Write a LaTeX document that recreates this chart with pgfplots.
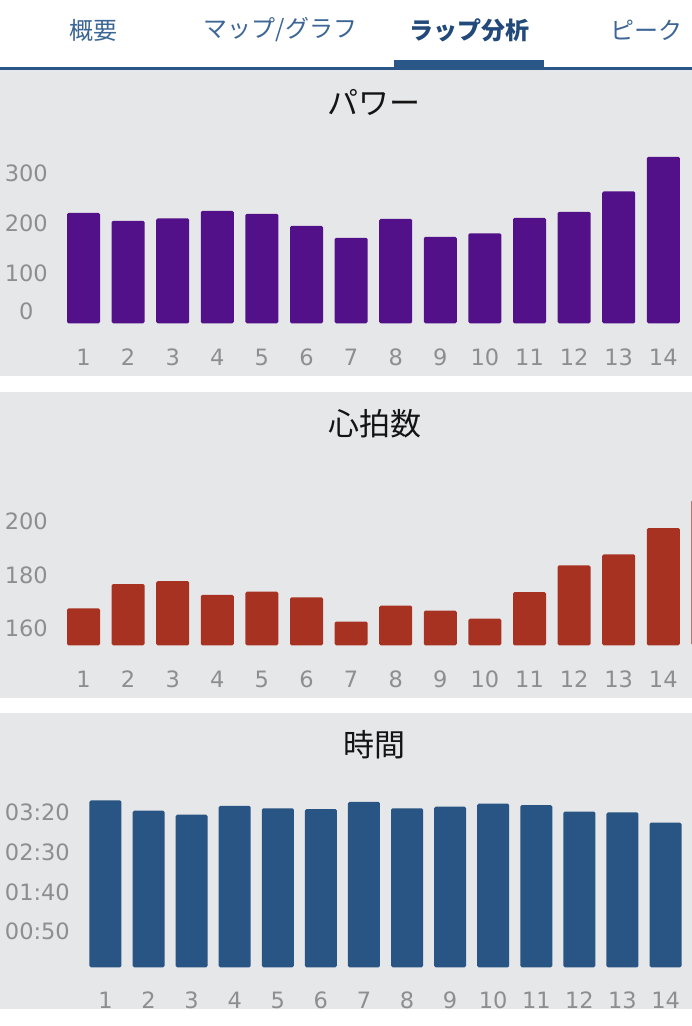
\documentclass[border=0pt]{standalone}
\usepackage{pgfplots}
\pgfplotsset{compat=1.18}
\usepackage{fontspec}
\setmainfont{DejaVu Sans}
\newfontfamily\cjk{Noto Sans CJK JP}
\definecolor{panel}{HTML}{E6E7E9}
\definecolor{tabblue}{HTML}{2A5688}
\definecolor{tabtext}{HTML}{3C6695}
\definecolor{tabsel}{HTML}{21497A}
\definecolor{purplebar}{HTML}{521089}
\definecolor{redbar}{HTML}{A83222}
\definecolor{bluebar}{HTML}{285583}
\definecolor{ticktext}{HTML}{8E8E8E}
\pgfplotsset{
  panelaxis/.style={
    scale only axis,
    anchor=south west,
    axis line style={draw=none},
    major tick length=0pt,
    tick style={draw=none},
    ybar,
    clip=true,
    xtick={1,2,3,4,5,6,7,8,9,10,11,12,13,14},
    xticklabels={1,2,3,4,5,6,7,8,9,10,11,12,13,14},
    tick label style={font=\fontsize{22.5bp}{27bp}\selectfont, text=ticktext, inner sep=0pt},
    xticklabel style={anchor=base},
    yticklabel style={anchor=east},
    /pgf/number format/assume math mode=true,
  }
}
\begin{document}
\begin{tikzpicture}
\useasboundingbox (0,0) rectangle (692bp,-1026bp);
\clip (0,0) rectangle (692bp,-1026bp);
\fill[white] (0,0) rectangle (692bp,-1026bp);
% panels
\fill[panel] (0,-69bp) rectangle (692bp,-375.5bp);
\fill[panel] (0,-392bp) rectangle (692bp,-697.5bp);
\fill[panel] (0,-712.5bp) rectangle (692bp,-1009bp);
% tabs
\fill[tabblue] (0,-67bp) rectangle (692bp,-69.5bp);
\fill[tabblue] (394bp,-60bp) rectangle (544bp,-69bp);
\node[text=tabtext, font=\cjk\fontsize{24bp}{28bp}\selectfont] at (93bp,-30bp) {概要};
\node[text=tabtext, font=\cjk\fontsize{24bp}{28bp}\selectfont] at (280.5bp,-30bp) {マップ/グラフ};
\node[text=tabsel, font=\cjk\bfseries\fontsize{24bp}{28bp}\selectfont] at (469bp,-30bp) {ラップ分析};
\node[text=tabtext, font=\cjk\fontsize{24bp}{28bp}\selectfont, anchor=west, inner sep=0pt] at (610bp,-30bp) {ピーク};
% titles
\node[text=black!92, font=\cjk\fontsize{31bp}{36bp}\selectfont] at (374bp,-102bp) {パワー};
\node[text=black!92, font=\cjk\fontsize{31bp}{36bp}\selectfont] at (375bp,-424bp) {心拍数};
\node[text=black!92, font=\cjk\fontsize{31bp}{36bp}\selectfont] at (374bp,-745bp) {時間};

% Panel 1: power
\begin{axis}[panelaxis,
  at={(38.9bp,-323.3bp)}, width=646.7bp, height=170bp,
  xmin=0, xmax=14.5, ymin=0, ymax=340,
  bar width=33bp,
  xticklabel style={yshift=-42.5bp},
  ytick={100,200,300}, yticklabels={100,200,300},
  yticklabel style={xshift=9.1bp},
  extra y ticks={0}, extra y tick labels={0},
  extra y tick style={yticklabel style={xshift=-14.4bp, yshift=12.3bp}},
]
\addplot[fill=purplebar, draw=none, rounded corners=1.5bp] coordinates {
(1,221) (2,205) (3,210) (4,225) (5,219) (6,195) (7,171)
(8,209) (9,173) (10,180) (11,211) (12,223) (13,264) (14,333)};
\end{axis}

% Panel 2: heart rate
\begin{axis}[panelaxis,
  at={(38.9bp,-645.3bp)}, width=691.3bp, height=158.3bp,
  xmin=0, xmax=15.5, ymin=153.6, ymax=213,
  bar width=33bp,
  xticklabel style={yshift=-42bp},
  ytick={160,180,200}, yticklabels={160,180,200},
  yticklabel style={xshift=9.1bp},
]
\addplot[fill=redbar, draw=none, rounded corners=1.5bp] coordinates {
(1,167.5) (2,176.6) (3,177.7) (4,172.5) (5,173.7) (6,171.6) (7,162.5)
(8,168.5) (9,166.6) (10,163.6) (11,173.6) (12,183.6) (13,187.7) (14,197.6) (15,208.1)};
\end{axis}

% Panel 3: time (seconds)
\begin{axis}[panelaxis,
  at={(62.4bp,-967.3bp)}, width=624.7bp, height=178.9bp,
  xmin=0, xmax=14.5, ymin=5.3, ymax=230,
  bar width=32bp,
  xticklabel style={yshift=-41bp},
  ytick={50,100,150,200}, yticklabels={00:50,01:40,02:30,03:20},
  yticklabel style={xshift=7.6bp},
]
\addplot[fill=bluebar, draw=none, rounded corners=1.5bp] coordinates {
(1,215) (2,202) (3,197) (4,208) (5,205) (6,204) (7,213)
(8,205) (9,207) (10,211) (11,209) (12,201) (13,200) (14,187)};
\end{axis}
\end{tikzpicture}
\end{document}
